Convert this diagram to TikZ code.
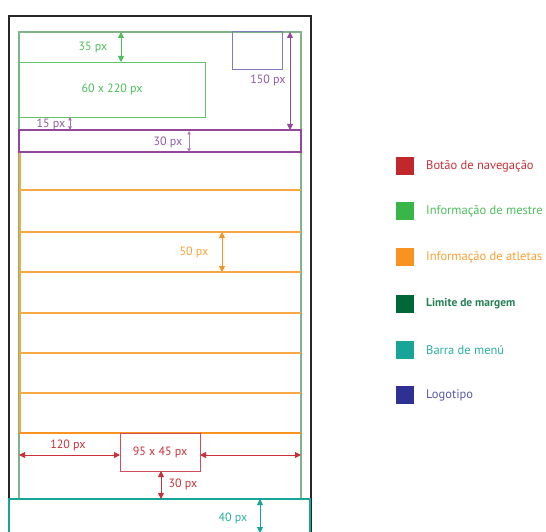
\documentclass[tikz,border=0pt]{standalone}
\usepackage{fontspec}
\setmainfont{PT Sans}
\usetikzlibrary{arrows.meta}
\definecolor{navred}{HTML}{C1272D}
\definecolor{mgreen}{HTML}{39B54A}
\definecolor{athorange}{HTML}{F7931E}
\definecolor{roworange}{HTML}{F8A745}
\definecolor{dkgreen}{HTML}{006837}
\definecolor{menuteal}{HTML}{16A596}
\definecolor{logoblue}{HTML}{2E3192}
\definecolor{marginline}{HTML}{80B387}
\definecolor{barpurple}{HTML}{93479B}
\definecolor{logoline}{HTML}{7B7BC0}
\definecolor{lblgreen}{HTML}{4DBE5A}
\definecolor{lblpurple}{HTML}{8D5AA5}
\definecolor{lblorange}{HTML}{F7A030}
\definecolor{lblred}{HTML}{C8303A}
\definecolor{lblteal}{HTML}{2AAFA0}
\begin{document}
\begin{tikzpicture}[x=1pt,y=-1pt,
  lbl/.style={font=\fontsize{12}{13}\selectfont, inner sep=0pt},
  dim/.style={line width=0.9pt, {Triangle[length=6pt,width=6pt]}-{Triangle[length=6pt,width=6pt]}},
  smalldim/.style={line width=0.7pt, {Triangle[length=3.5pt,width=3.5pt]}-{Triangle[length=3.5pt,width=3.5pt]}},
  row/.style={roworange, line width=1.05pt},
  box/.style={anchor=north west, inner sep=0pt, outer sep=0pt},
  legsq/.style={minimum width=18pt, minimum height=18pt, inner sep=0pt},
  legtxt/.style={anchor=west, font=\fontsize{12.5}{14}\selectfont, inner sep=0pt}]
\useasboundingbox (0,0) rectangle (546,532);
\begin{scope}
\clip (0,0) rectangle (546,532);
% outer frame
\draw[line width=2.2pt, black!85] (9,16) rectangle (311,560);
% margin
\draw[marginline, line width=1.2pt] (19,32) rectangle (301,499);
% athlete rows
\draw[row] (20,152) -- (20,433);
\draw[row] (19,190) -- (301,190);
\draw[row] (19,232) -- (301,232);
\draw[row] (19,272) -- (301,272);
\draw[row] (19,313) -- (301,313);
\draw[row] (19,353) -- (301,353);
\draw[row] (19,393) -- (301,393);
\draw[athorange, line width=1.5pt] (19,433) -- (301,433);
% master info box
\node[box, draw=lblgreen!90, line width=0.9pt, minimum width=186pt, minimum height=55pt] (info) at (19,62) {};
\node[lbl, text=lblgreen] (infolbl) at (info.center) {60 x 220 px};
% logo
\node[box, draw=logoline, line width=1pt, minimum width=50pt, minimum height=38pt] (logo) at (232,32) {};
% purple bar
\node[box, draw=barpurple, line width=1.6pt, minimum width=282pt, minimum height=22pt] (bar) at (19,130) {};
% nav button
\node[box, draw=lblred!85, line width=0.9pt, minimum width=80pt, minimum height=38pt] (nav) at (120,433) {};
\node[lbl, text=lblred] (navlbl) at (nav.center) {95 x 45 px};
% menu bar
\draw[menuteal, line width=2pt] (9,499) rectangle (310,560);

% coordinates
\coordinate (t35) at (121,32);
\coordinate (t150) at (290,32);
\coordinate (p30a) at (189,131);
\coordinate (p30b) at (189,152);
\coordinate (s15a) at (70,117);
\coordinate (s15b) at (70,130);
\coordinate (o50a) at (222,232);
\coordinate (o50b) at (222,272);
\coordinate (r120a) at (19,455);
\coordinate (r120b) at (120,455);
\coordinate (rra) at (200,455);
\coordinate (rrb) at (301,455);
\coordinate (r30b) at (161,499);
\coordinate (m40a) at (260,499);
\coordinate (m40b) at (260,533);

\draw[dim, lblgreen] (t35) -- (info.north -| t35);
\node[lbl, text=lblgreen] (l35) at (93,48) {35 px};
\draw[dim, barpurple] (t150) -- (bar.north -| t150);
\node[lbl, text=lblpurple] (l150) at (268,80) {150 px};
\draw[smalldim, barpurple!70] (p30a) -- (p30b);
\node[lbl, text=lblpurple] (lp30) at (168,142) {30 px};
\draw[smalldim, barpurple!80] (s15a) -- (s15b);
\node[lbl, text=lblpurple] (l15) at (51,124) {15 px};
\draw[dim, athorange] (o50a) -- (o50b);
\node[lbl, text=lblorange] (l50) at (194,252) {50 px};
\draw[dim, lblred] (r120a) -- (r120b);
\draw[dim, lblred] (rra) -- (rrb);
\node[lbl, text=lblred] (l120) at (68,445) {120 px};
\draw[dim, lblred] (nav.south -| r30b) -- (r30b);
\node[lbl, text=lblred] (lr30) at (183,484) {30 px};
\draw[dim, menuteal] (m40a) -- (m40b);
\node[lbl, text=lblteal] (l40) at (233,518) {40 px};
\end{scope}

% legend
\node[legsq, fill=navred] (sq1) at (405,166) {};
\node[legtxt, text=lblred] (tx1) at (426,166) {Botão de navegação};
\node[legsq, fill=mgreen] (sq2) at (405,211) {};
\node[legtxt, text=lblgreen] (tx2) at (426,211) {Informação de mestre};
\node[legsq, fill=athorange] (sq3) at (405,257) {};
\node[legtxt, text=lblorange] (tx3) at (426,257) {Informação de atletas};
\node[legsq, fill=dkgreen] (sq4) at (405,304) {};
\node[legtxt, text=dkgreen!85, font=\fontsize{11.5}{14}\selectfont\bfseries] (tx4) at (426,304) {Limite de margem};
\node[legsq, fill=menuteal] (sq5) at (405,350) {};
\node[legtxt, text=lblteal] (tx5) at (426,350) {Barra de menú};
\node[legsq, fill=logoblue] (sq6) at (405,395) {};
\node[legtxt, text=logoblue!80] (tx6) at (426,395) {Logotipo};
\end{tikzpicture}
\end{document}
